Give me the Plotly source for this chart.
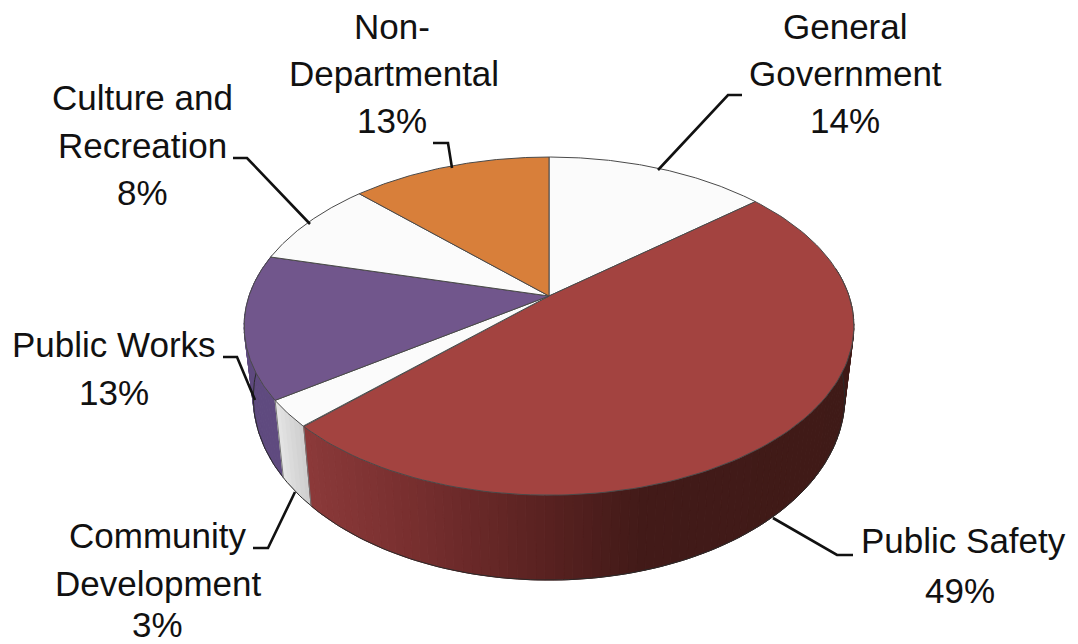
import numpy as np
import plotly.graph_objects as go

categories = ["General Government", "Public Safety", "Community Development",
              "Public Works", "Culture and Recreation", "Non-Departmental"]
values = [13.9, 48.8, 2.6, 13.7, 8.4, 12.6]
shown_pct = [14, 49, 3, 13, 8, 13]
top_colors = ["#fbfbfb", "#a34340", "#fbfbfb", "#71568c", "#fbfbfb", "#d87f3a"]

# label lines: (text, x, y) in pixel-scale axis units
label_lines = [
    [("General", 845, 26), ("Government", 845, 73)],
    [("Public Safety", 963, 540)],
    [("Community", 157, 535), ("Development", 158, 583)],
    [("Public Works", 114, 344)],
    [("Culture and", 142, 97), ("Recreation", 142, 145)],
    [("Non-", 392, 26), ("Departmental", 394, 73)],
]
pct_pos = [(845, 120), (960, 590), (157, 624), (114, 392), (142, 192), (392, 120)]
leaders = [
    [(658, 170), (728, 95), (742, 95)],
    [(773, 518), (837, 555), (853, 555)],
    [(295, 492), (268, 548), (253, 548)],
    [(255, 400), (237, 357), (223, 357)],
    [(310, 224), (247, 158), (233, 158)],
    [(452, 168), (448, 143), (433, 143)],
]

# perspective disc projection
CX, CY, A, B, K = 549.0, 296.0, 163.7, 300.0, 0.178
BOT_Y, BOT_SX, BOT_SY = 365.0, 0.97, 1.08


def top_pt(t):
    s, c = np.sin(t), np.cos(t)
    d = 1 + K * c
    return CX + B * s / d, CY - A * c / d


def bot_pt(t):
    s, c = np.sin(t), np.cos(t)
    d = 1 + K * c
    return CX + BOT_SX * B * s / d, BOT_Y - BOT_SY * A * c / d


def red_shade(x):
    xs = [302, 400, 540, 640, 860]
    r = [140, 122, 90, 66, 63]
    g = [58, 48, 34, 26, 26]
    b = [58, 48, 33, 24, 23]
    return f"rgb({np.interp(x, xs, r):.0f},{np.interp(x, xs, g):.0f},{np.interp(x, xs, b):.0f})"


def pw_shade(x):
    return "#5f4a7f"


def cd_shade(x):
    v = np.interp(x, [275, 307], [232, 205])
    return f"rgb({v:.0f},{v:.0f},{v:.0f})"


fig = go.Figure()
cum = np.concatenate([[0], np.cumsum(values)]) / sum(values) * 2 * np.pi


def add_poly(xs, ys, fill, line_color, width):
    fig.add_trace(go.Scatter(x=xs, y=ys, mode="lines", fill="toself", fillcolor=fill,
                             line=dict(color=line_color, width=width), hoverinfo="skip",
                             showlegend=False))


# side walls: Public Works, Community Development, Public Safety
side_parts = [(3, pw_shade, cum[3], np.deg2rad(285)),
              (2, cd_shade, cum[2], cum[3]),
              (1, red_shade, np.deg2rad(80), cum[2])]
for idx, shade, t0, t1 in side_parts:
    n = max(4, int((t1 - t0) / np.deg2rad(1.5)))
    edges = np.linspace(t0, t1, n + 1)
    for a, b in zip(edges[:-1], edges[1:]):
        ts = np.array([a, b])
        xt, yt = top_pt(ts)
        xb, yb = bot_pt(ts[::-1])
        col = shade((xt.mean() + xb.mean()) / 2)
        add_poly(list(xt) + list(xb) + [xt[0]], list(yt) + list(yb) + [yt[0]], col, col, 1)

# side outlines
ts = np.linspace(np.deg2rad(80), np.deg2rad(285), 200)
xb, yb = bot_pt(ts)
fig.add_trace(go.Scatter(x=xb, y=yb, mode="lines", line=dict(color="#2a2a2a", width=1),
                         hoverinfo="skip", showlegend=False))
for t in (cum[2], cum[3]):
    xt, yt = top_pt(t)
    xb2, yb2 = bot_pt(t)
    fig.add_trace(go.Scatter(x=[xt, xb2], y=[yt, yb2], mode="lines",
                             line=dict(color="#777777", width=1), hoverinfo="skip", showlegend=False))

# top wedges
for i in range(len(values)):
    ts = np.linspace(cum[i], cum[i + 1], 120)
    xr, yr = top_pt(ts)
    xs = [CX] + list(xr) + [CX]
    ys = [CY] + list(yr) + [CY]
    add_poly(xs, ys, top_colors[i], "#4a4a4a", 1)

# leaders
for pts in leaders:
    fig.add_trace(go.Scatter(x=[p[0] for p in pts], y=[p[1] for p in pts], mode="lines",
                             line=dict(color="#111111", width=2.6), hoverinfo="skip", showlegend=False))

# labels
annotations = []
FONT = dict(family="Liberation Sans, Arial, sans-serif", size=35, color="#111111")
for lines, pct, pos in zip(label_lines, shown_pct, pct_pos):
    for text, x, y in lines + [(f"{pct}%", pos[0], pos[1])]:
        annotations.append(dict(x=x, y=y, xref="x", yref="y", text=text, showarrow=False,
                                xanchor="center", yanchor="middle", font=FONT))

fig.update_layout(
    width=1078, height=644, autosize=False,
    margin=dict(l=0, r=0, t=0, b=0),
    paper_bgcolor="white", plot_bgcolor="white",
    xaxis=dict(range=[0, 1078], visible=False, fixedrange=True),
    yaxis=dict(range=[644, 0], visible=False, fixedrange=True),
    annotations=annotations,
    showlegend=False,
)
fig.write_html("out.html", config=dict(displayModeBar=False),
               post_script="document.body.style.margin='0';document.documentElement.style.overflow='hidden';")
